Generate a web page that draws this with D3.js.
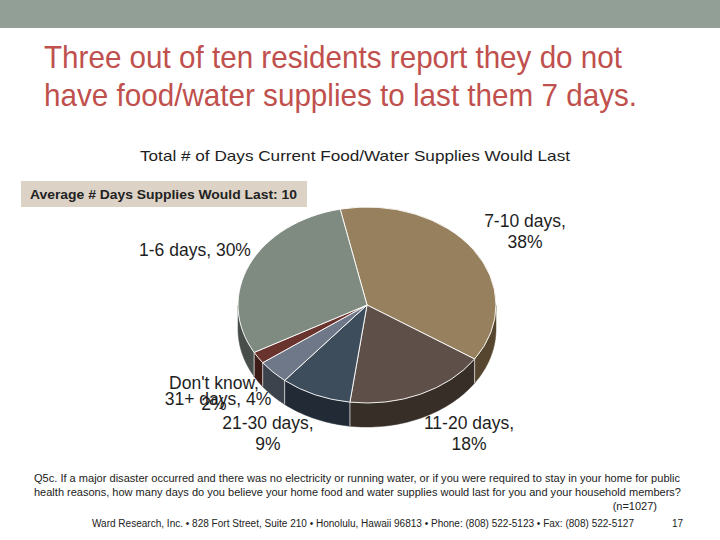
<!DOCTYPE html>
<html>
<head>
<meta charset="utf-8">
<script src="https://cdn.jsdelivr.net/npm/d3@7"></script>
<style>
  body { margin: 0; background: #fff; }
  text { font-family: "Liberation Sans", Arial, sans-serif; }
</style>
</head>
<body>
<div id="chart"></div>
<script>
// data
var categories = ["7-10 days", "11-20 days", "21-30 days", "31+ days", "Don't know", "1-6 days"];
var values = [38, 18, 9, 4, 2, 30];
var topColors = ["#97805e", "#5e5049", "#3e4d5c", "#6e7889", "#6a342e", "#7f8b80"];
var sideColors = ["#56462f", "#382e28", "#222b35", "#3c434d", "#3e1d19", "#484e49"];

var width = 720, height = 540;
var cx = 367, cy = 305, rx = 129, ry = 98, depth = 24;

var svg = d3.select("#chart").append("svg")
    .attr("width", width)
    .attr("height", height);

// header bar
svg.append("rect")
    .attr("x", 0).attr("y", 0)
    .attr("width", width).attr("height", 28)
    .attr("fill", "#929f97");

// title
svg.append("text")
    .text("Three out of ten residents report they do not")
    .attr("x", 44).attr("y", 68)
    .attr("font-size", "31.5px")
    .attr("fill", "#c0504d")
    .attr("textLength", 578)
    .attr("lengthAdjust", "spacingAndGlyphs");
svg.append("text")
    .text("have food/water supplies to last them 7 days.")
    .attr("x", 44).attr("y", 106)
    .attr("font-size", "31.5px")
    .attr("fill", "#c0504d")
    .attr("textLength", 593)
    .attr("lengthAdjust", "spacingAndGlyphs");

// chart title
svg.append("text")
    .text("Total # of Days Current Food/Water Supplies Would Last")
    .attr("x", 140).attr("y", 161)
    .attr("font-size", "14.5px")
    .attr("fill", "#1e1e1e")
    .attr("textLength", 430)
    .attr("lengthAdjust", "spacingAndGlyphs");

// average box
svg.append("rect")
    .attr("x", 21).attr("y", 181)
    .attr("width", 286).attr("height", 26)
    .attr("fill", "#dcd3c6");
svg.append("text")
    .text("Average # Days Supplies Would Last: 10")
    .attr("x", 30).attr("y", 198.5)
    .attr("font-size", "12.5px")
    .attr("font-weight", "bold")
    .attr("fill", "#222")
    .attr("textLength", 267)
    .attr("lengthAdjust", "spacingAndGlyphs");

// pie
var pie = d3.pie()
    .sort(null)
    .startAngle(-12 * Math.PI / 180)
    .endAngle(2 * Math.PI - 12 * Math.PI / 180);
var slices = pie(values);

function pt(a, dy) {
  return [cx + rx * Math.sin(a), cy - ry * Math.cos(a) + (dy || 0)];
}

// outer walls on the front half
var gWall = svg.append("g");
slices.forEach(function(s, i) {
  var a0 = Math.max(s.startAngle, Math.PI / 2),
      a1 = Math.min(s.endAngle, 3 * Math.PI / 2);
  if (a1 <= a0) return;
  var steps = d3.range(0, 41).map(function(k) { return a0 + (a1 - a0) * k / 40; });
  var pts = steps.map(function(a) { return pt(a, 0); })
      .concat(steps.slice().reverse().map(function(a) { return pt(a, depth); }));
  gWall.append("path")
      .attr("d", d3.line()(pts) + "Z")
      .attr("fill", sideColors[i])
      .attr("stroke", sideColors[i])
      .attr("stroke-width", 0.5);
});

// light edges where slices meet on the wall
slices.forEach(function(s) {
  var a = s.endAngle;
  if (a > Math.PI / 2 && a < 3 * Math.PI / 2) {
    var p = pt(a, 0);
    gWall.append("line")
        .attr("x1", p[0]).attr("y1", p[1])
        .attr("x2", p[0]).attr("y2", p[1] + depth)
        .attr("stroke", "#e8e8e8")
        .attr("stroke-width", 0.8);
  }
});

// top faces
var arc = d3.arc().innerRadius(0).outerRadius(rx);
svg.append("g")
    .attr("transform", "translate(" + cx + "," + cy + ") scale(1," + (ry / rx) + ")")
  .selectAll("path")
  .data(slices)
  .join("path")
    .attr("d", arc)
    .attr("fill", function(d, i) { return topColors[i]; })
    .attr("stroke", "#ffffff")
    .attr("stroke-width", 0.9)
    .attr("vector-effect", "non-scaling-stroke");

// data labels (the reference lets the two small ones overlap)
var labelAt = {
  "7-10 days": { x: 525, y: 227, split: true },
  "11-20 days": { x: 469, y: 429, split: true },
  "21-30 days": { x: 268, y: 429, split: true },
  "31+ days": { x: 218, y: 405, split: false },
  "Don't know": { x: 214, y: 389, split: true },
  "1-6 days": { x: 195, y: 256, split: false }
};

var gLab = svg.append("g")
    .attr("font-size", "17.5px")
    .attr("fill", "#1e1e1e")
    .attr("text-anchor", "middle");

categories.forEach(function(c, i) {
  var L = labelAt[c];
  var t = gLab.append("text").attr("x", L.x).attr("y", L.y);
  if (L.split) {
    t.append("tspan").attr("x", L.x).text(c + ",");
    t.append("tspan").attr("x", L.x).attr("dy", 20.5).text(values[i] + "%");
  } else {
    t.text(c + ", " + values[i] + "%");
  }
});

// footnotes
var foot = svg.append("g").attr("fill", "#222");
foot.append("text")
    .text("Q5c. If a major disaster occurred and there was no electricity or running water, or if you were required to stay in your home for public")
    .attr("x", 34).attr("y", 482)
    .attr("font-size", "11px")
    .attr("textLength", 646)
    .attr("lengthAdjust", "spacingAndGlyphs");
foot.append("text")
    .text("health reasons, how many days do you believe your home food and water supplies would last for you and your household members?")
    .attr("x", 34).attr("y", 496)
    .attr("font-size", "11px")
    .attr("textLength", 647)
    .attr("lengthAdjust", "spacingAndGlyphs");
foot.append("text")
    .text("(n=1027)")
    .attr("x", 657).attr("y", 510)
    .attr("text-anchor", "end")
    .attr("font-size", "11px");
foot.append("text")
    .text("Ward Research, Inc. \u2022 828 Fort Street, Suite 210 \u2022 Honolulu, Hawaii 96813 \u2022 Phone: (808) 522-5123 \u2022 Fax: (808) 522-5127")
    .attr("x", 92).attr("y", 527)
    .attr("font-size", "10px")
    .attr("textLength", 542)
    .attr("lengthAdjust", "spacingAndGlyphs");
foot.append("text")
    .text("17")
    .attr("x", 683).attr("y", 527)
    .attr("text-anchor", "end")
    .attr("font-size", "10px");
</script>
</body>
</html>
